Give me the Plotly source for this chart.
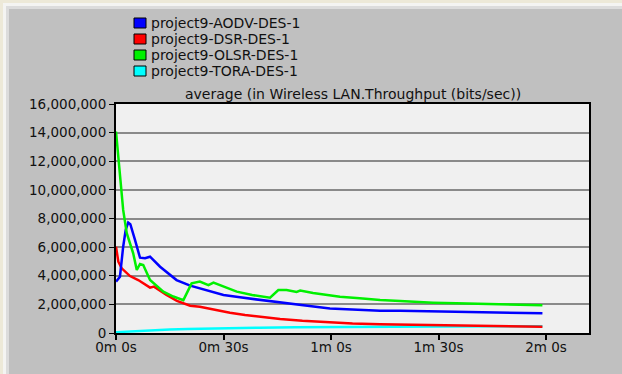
import plotly.graph_objects as go

# Simulation time (s) and average WLAN throughput (Mbit/s scaled to bits/s below)
olsr_t = [0, 0.9, 2.0, 3.0, 4.8, 5.8, 6.7, 7.6, 9.5, 13.2, 16, 18.8, 21.1, 23.4, 25.8, 27.2,
          30, 33.7, 38, 43, 45.3, 47.6, 50.4, 51.4, 55, 62.5, 68, 73.7, 79.3, 84.8, 88.5,
          95, 101, 107, 113, 119]
olsr_v = [14.07, 11.6, 8.6, 6.97, 5.57, 4.4, 4.82, 4.75, 3.7, 2.89, 2.55, 2.3, 3.47, 3.59, 3.35, 3.52,
          3.25, 2.89, 2.65, 2.47, 3.0, 3.0, 2.87, 2.96, 2.8, 2.54, 2.42, 2.3, 2.24, 2.16, 2.12,
          2.07, 2.03, 2.0, 1.97, 1.94]

aodv_t = [0, 1.1, 2.0, 2.7, 3.4, 4.0, 5.3, 6.7, 8.1, 9.5, 12.3, 16.9, 20.7, 23.4, 30, 34.6,
          41, 48.6, 54, 59.7, 66, 73.7, 79.3, 84.8, 92, 97.9, 105, 112, 119]
aodv_v = [3.59, 3.93, 6.03, 7.2, 7.72, 7.6, 6.5, 5.26, 5.22, 5.33, 4.63, 3.7, 3.31, 3.12, 2.66, 2.49,
          2.28, 2.07, 1.88, 1.72, 1.63, 1.56, 1.56, 1.53, 1.5, 1.49, 1.45, 1.41, 1.38]

dsr_t = [0, 0.65, 1.6, 3.9, 6.2, 9.5, 10.6, 14.1, 17, 20.7, 23.4, 27, 31.8, 36, 41, 45.8,
         52, 59.7, 66, 73.7, 79.3, 86, 92, 98, 105, 112, 119]
dsr_v = [6.03, 4.98, 4.52, 3.98, 3.7, 3.17, 3.24, 2.66, 2.25, 1.91, 1.84, 1.65, 1.42, 1.26, 1.1, 0.98,
         0.85, 0.74, 0.67, 0.62, 0.6, 0.56, 0.53, 0.51, 0.48, 0.46, 0.44]

tora_t = [0, 5, 10, 15, 20, 25, 30, 40, 50, 60, 75, 90, 105, 119]
tora_v = [0.06, 0.13, 0.19, 0.24, 0.28, 0.31, 0.34, 0.37, 0.4, 0.42, 0.44, 0.46, 0.47, 0.47]

series_names = ["project9-AODV-DES-1", "project9-DSR-DES-1",
                "project9-OLSR-DES-1", "project9-TORA-DES-1"]
series_colors = ["#0000FF", "#FF0000", "#00F000", "#00FFFF"]

x_tick_vals = [0, 30, 60, 90, 120]
x_tick_text = ["0m 0s", "0m 30s", "1m 0s", "1m 30s", "2m 0s"]
y_tick_vals = [0, 2e6, 4e6, 6e6, 8e6, 10e6, 12e6, 14e6, 16e6]

title_text = "average (in Wireless LAN.Throughput (bits/sec))"

W, H = 622, 374
L, R, T, B = 116, 33, 104, 41
PW, PH = W - L - R, H - T - B

FONT = "DejaVu Sans"
TEXT_COLOR = "#111111"

fig = go.Figure()

data = {
    "project9-AODV-DES-1": (aodv_t, aodv_v),
    "project9-DSR-DES-1": (dsr_t, dsr_v),
    "project9-OLSR-DES-1": (olsr_t, olsr_v),
    "project9-TORA-DES-1": (tora_t, tora_v),
}
# draw order: cyan first, then red, blue, green on top
for name in ["project9-TORA-DES-1", "project9-DSR-DES-1", "project9-AODV-DES-1", "project9-OLSR-DES-1"]:
    t, v = data[name]
    col = series_colors[series_names.index(name)]
    fig.add_trace(go.Scatter(
        x=t, y=[val * 1e6 for val in v], mode="lines", name=name,
        line=dict(color=col, width=2.5), showlegend=False, hoverinfo="skip"))


def px_x(px):
    return (px - L) / PW


def px_y(py):
    return (H - B - py) / PH


shapes = []
annotations = []

# window frame strips along the top and left edges
for edge, colour in [(9, "#DCDCDC"), (6, "#F4F4F2"), (3, "#EDE9D8")]:
    shapes.append(dict(type="rect", xref="paper", yref="paper", layer="below",
                       x0=px_x(0), x1=px_x(W), y0=px_y(0), y1=px_y(edge),
                       fillcolor=colour, line=dict(width=0)))
    shapes.append(dict(type="rect", xref="paper", yref="paper", layer="below",
                       x0=px_x(0), x1=px_x(edge), y0=px_y(0), y1=px_y(H),
                       fillcolor=colour, line=dict(width=0)))

# legend: coloured boxes with labels
row_y = [23, 39, 55, 71]
for name, col, ry in zip(series_names, series_colors, row_y):
    shapes.append(dict(type="rect", xref="paper", yref="paper",
                       x0=px_x(134), x1=px_x(146), y0=px_y(ry + 5), y1=px_y(ry - 5),
                       fillcolor=col, line=dict(color="#000000", width=1)))
    annotations.append(dict(xref="paper", yref="paper", x=px_x(149), y=px_y(ry),
                            xanchor="left", yanchor="middle", text=name, showarrow=False,
                            font=dict(family=FONT, size=14, color=TEXT_COLOR)))

annotations.append(dict(xref="paper", yref="paper", x=0.5, y=px_y(94),
                        xanchor="center", yanchor="middle", text=title_text, showarrow=False,
                        font=dict(family=FONT, size=14, color=TEXT_COLOR)))

fig.update_layout(
    width=W, height=H,
    margin=dict(l=L, r=R, t=T, b=B, pad=0),
    paper_bgcolor="#C0C0C0",
    plot_bgcolor="#F0F0F0",
    shapes=shapes,
    annotations=annotations,
    showlegend=False,
    font=dict(family=FONT, size=13, color=TEXT_COLOR),
)

fig.update_xaxes(
    range=[0, PW * 30 / 107.5],
    tickmode="array", tickvals=x_tick_vals, ticktext=x_tick_text,
    ticks="outside", ticklen=5, tickwidth=2, tickcolor="#000000",
    ticklabelstandoff=-4,
    showgrid=False, zeroline=False,
    showline=True, linecolor="#000000", linewidth=2, mirror=True,
    tickfont=dict(family=FONT, size=13.5, color=TEXT_COLOR),
)
fig.update_yaxes(
    range=[0, 16e6],
    tickmode="array", tickvals=y_tick_vals, tickformat=",d",
    ticks="outside", ticklen=5, tickwidth=1, tickcolor="#000000",
    showgrid=True, gridcolor="#8A8A8A", gridwidth=1.5,
    zeroline=False,
    showline=True, linecolor="#000000", linewidth=2, mirror=True,
    tickfont=dict(family=FONT, size=13.5, color=TEXT_COLOR),
)

fig.write_html("out.html")
